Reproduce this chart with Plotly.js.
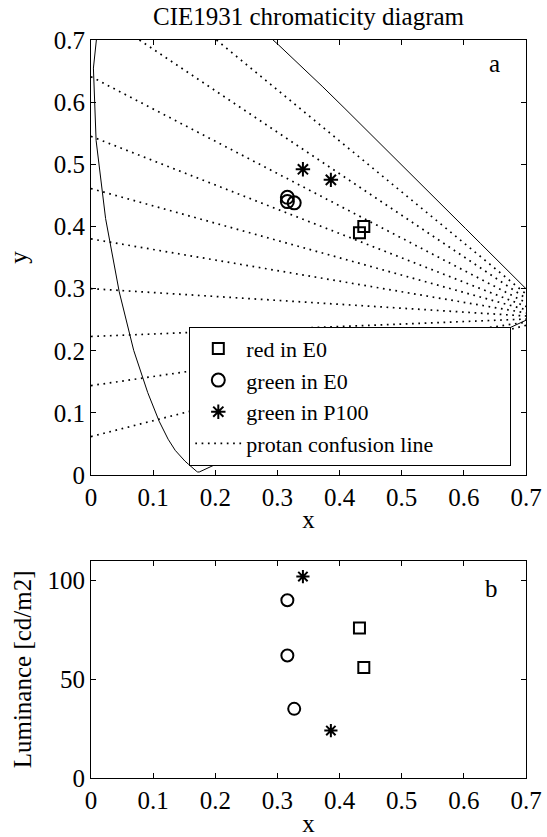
<!DOCTYPE html>
<html>
<head>
<meta charset="utf-8">
<script src="https://cdn.plot.ly/plotly-3.0.1.min.js"></script>
<style>html,body{margin:0;padding:0;background:#fff;}#chart{width:547px;height:837px;}</style>
</head>
<body>
<div id="chart"></div>
<script>
// CIE 1931 spectral locus, 380-700 nm in 5 nm steps
var locusX = [0.1741,0.1740,0.1738,0.1736,0.1733,0.1730,0.1726,0.1721,0.1714,0.1703,0.1689,0.1669,0.1644,0.1611,0.1566,0.1510,0.1440,0.1355,0.1241,0.1096,0.0913,0.0687,0.0454,0.0235,0.0082,0.0039,0.0139,0.0389,0.0743,0.1142,0.1547,0.1929,0.2296,0.2658,0.3016,0.3373,0.3731,0.4087,0.4441,0.4788,0.5125,0.5448,0.5752,0.6029,0.6270,0.6482,0.6658,0.6801,0.6915,0.7006,0.7079,0.7140,0.7190,0.7230,0.7260,0.7283,0.7300,0.7311,0.7320,0.7327,0.7334,0.7340,0.7344,0.7346,0.7347];
var locusY = [0.0050,0.0050,0.0049,0.0049,0.0048,0.0048,0.0048,0.0048,0.0051,0.0058,0.0069,0.0086,0.0109,0.0138,0.0177,0.0227,0.0297,0.0399,0.0578,0.0868,0.1327,0.2007,0.2950,0.4127,0.5384,0.6548,0.7502,0.8120,0.8338,0.8262,0.8059,0.7816,0.7543,0.7243,0.6923,0.6589,0.6245,0.5896,0.5547,0.5202,0.4866,0.4544,0.4242,0.3965,0.3725,0.3514,0.3340,0.3197,0.3083,0.2993,0.2920,0.2859,0.2809,0.2770,0.2740,0.2717,0.2700,0.2689,0.2680,0.2673,0.2666,0.2660,0.2656,0.2654,0.2653];

// protan confusion lines: start points and copunctal point
var confStartX = [0.202,0.078,0,0,0,0,0,0,0,0];
var confStartY = [0.700,0.700,0.641,0.545,0.461,0.380,0.300,0.223,0.144,0.062];
var copunctalX = 0.747;
var copunctalY = 0.253;

// stimuli
var redX = [0.432,0.439];
var redY = [0.390,0.400];
var redLum = [76,56];
var greenX = [0.316,0.316,0.327];
var greenY = [0.447,0.440,0.438];
var greenLum = [90,62,35];
var greenPX = [0.341,0.386];
var greenPY = [0.492,0.475];
var greenPLum = [102,24];

var legendNames = ['red in E0','green in E0','green in P100','protan confusion line'];
var xTicks = [0,0.1,0.2,0.3,0.4,0.5,0.6,0.7];
var yTicksTop = [0,0.1,0.2,0.3,0.4,0.5,0.6,0.7];
var yTicksBottom = [0,50,100];

var FONT = 'Liberation Serif, Times New Roman, serif';
var FS = 25;

var cx = [], cy = [];
for (var i = 0; i < confStartX.length; i++) {
  cx.push(confStartX[i], copunctalX, null);
  cy.push(confStartY[i], copunctalY, null);
}

var mk = function(sym, size) {
  return {symbol: sym, size: size, color: 'black', line: {color: 'black', width: 2}};
};

var pad = '\u00a0\u00a0\u00a0\u00a0\u00a0\u00a0\u00a0\u00a0\u00a0\u00a0\u00a0\u00a0\u00a0';

var traces = [
  {x: locusX.concat([locusX[0]]), y: locusY.concat([locusY[0]]), mode: 'lines',
   line: {color: 'black', width: 1}, showlegend: false, hoverinfo: 'skip', xaxis: 'x', yaxis: 'y'},
  {x: cx, y: cy, mode: 'lines', name: legendNames[3] + pad,
   line: {color: 'black', width: 1.7, dash: '1.7px,4.6px'}, legendrank: 4, xaxis: 'x', yaxis: 'y'},
  {x: redX, y: redY, mode: 'markers', name: legendNames[0], marker: mk('square-open', 11), legendrank: 1, xaxis: 'x', yaxis: 'y'},
  {x: greenX, y: greenY, mode: 'markers', name: legendNames[1], marker: mk('circle-open', 13), legendrank: 2, xaxis: 'x', yaxis: 'y'},
  {x: greenPX, y: greenPY, mode: 'markers', name: legendNames[2], marker: mk('asterisk-open', 12), legendrank: 3, xaxis: 'x', yaxis: 'y'},
  {x: redX, y: redLum, mode: 'markers', showlegend: false, marker: mk('square-open', 11), xaxis: 'x2', yaxis: 'y2'},
  {x: greenX, y: greenLum, mode: 'markers', showlegend: false, marker: mk('circle-open', 12), xaxis: 'x2', yaxis: 'y2'},
  {x: greenPX, y: greenPLum, mode: 'markers', showlegend: false, marker: mk('asterisk-open', 11), xaxis: 'x2', yaxis: 'y2'}
];

var axBase = function(extra) {
  var a = {showline: true, linecolor: 'black', linewidth: 1, mirror: 'ticks', ticks: 'inside', ticklen: 5,
    tickcolor: 'black', tickwidth: 1, showgrid: false, zeroline: false, fixedrange: true,
    tickfont: {family: FONT, size: FS, color: 'black'}, automargin: false};
  for (var k in extra) a[k] = extra[k];
  return a;
};

var layout = {
  width: 547, height: 837,
  margin: {l: 91, r: 21, t: 40, b: 59},
  paper_bgcolor: 'white', plot_bgcolor: 'white',
  font: {family: FONT, size: FS, color: 'black'},
  title: {text: 'CIE1931 chromaticity diagram', font: {family: FONT, size: FS, color: 'black'},
    x: 0.5, xref: 'paper', y: 1 - 16 / 837, yref: 'container', yanchor: 'middle'},
  xaxis: axBase({domain: [0, 1], anchor: 'y', range: [0, 0.7], tickvals: xTicks, ticktext: xTicks.map(String),
    title: {text: 'x', font: {family: FONT, size: FS}, standoff: 0}}),
  yaxis: axBase({domain: [0.4104, 1], anchor: 'x', range: [0, 0.7], tickvals: yTicksTop, ticktext: yTicksTop.map(String),
    title: {text: 'y', font: {family: FONT, size: FS}, standoff: 18}}),
  xaxis2: axBase({domain: [0, 1], anchor: 'y2', range: [0, 0.7], tickvals: xTicks, ticktext: xTicks.map(String),
    title: {text: 'x', font: {family: FONT, size: FS}, standoff: 3}}),
  yaxis2: axBase({domain: [0, 0.2944], anchor: 'x2', range: [0, 110], tickvals: yTicksBottom, ticktext: yTicksBottom.map(String),
    title: {text: 'Luminance [cd/m2]', font: {family: FONT, size: FS}, standoff: 8}}),
  showlegend: true,
  legend: {x: 0.226, y: 0.6115, xanchor: 'left', yanchor: 'top', xref: 'paper', yref: 'paper',
    bgcolor: 'white', bordercolor: 'black', borderwidth: 1, itemwidth: 46,
    font: {family: FONT, size: 22, color: 'black'}, traceorder: 'normal'},
  annotations: [
    {text: 'a', x: 0.65, y: 0.662, xref: 'x', yref: 'y', showarrow: false, font: {family: FONT, size: FS, color: 'black'}},
    {text: 'b', x: 0.645, y: 96, xref: 'x2', yref: 'y2', showarrow: false, font: {family: FONT, size: FS, color: 'black'}}
  ]
};

Plotly.newPlot('chart', traces, layout, {displayModeBar: false, staticPlot: true});
</script>
</body>
</html>
